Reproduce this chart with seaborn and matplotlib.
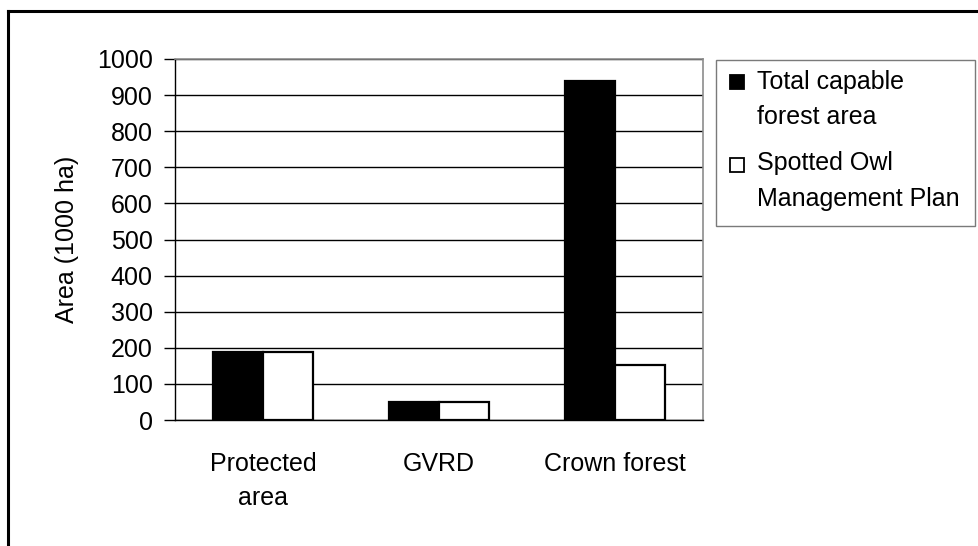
import matplotlib
matplotlib.use("Agg")
import matplotlib.pyplot as plt
from matplotlib.patches import Rectangle
from matplotlib.lines import Line2D
import seaborn as sns
import pandas as pd

categories = ["Protected\narea", "GVRD", "Crown forest"]
series_names = ["Total capable forest area", "Spotted Owl Management Plan"]
total_capable = [187, 50, 938]
spotted_owl = [187, 50, 153]
bar_colors = ["black", "white"]
y_ticks = list(range(0, 1001, 100))

W, H = 979, 546
sns.set_theme(style="white")
plt.rcParams["font.family"] = ["Liberation Sans", "DejaVu Sans"]
plt.rcParams.update({"text.color": "black", "axes.labelcolor": "black",
                     "xtick.color": "black", "ytick.color": "black"})
FS = 18

df = pd.DataFrame({
    "category": categories * 2,
    "area": total_capable + spotted_owl,
    "series": [series_names[0]] * 3 + [series_names[1]] * 3,
})

fig = plt.figure(figsize=(W / 100, H / 100), dpi=100)
fig.patch.set_facecolor("white")


def fx(px):
    return px / W


def fy(py):
    return 1 - py / H


ax = fig.add_axes([fx(175), fy(420), fx(703) - fx(175), fy(59) - fy(420)])

sns.barplot(data=df, x="category", y="area", hue="series", order=categories,
            hue_order=series_names, palette=bar_colors, edgecolor="black",
            linewidth=1.6, width=0.571, gap=0, saturation=1, legend=False, ax=ax)

ax.set_xlim(-0.5, 2.5)
ax.set_ylim(0, 1000)
ax.set_yticks(y_ticks)
ax.set_yticklabels([str(v) for v in y_ticks], fontsize=FS, color="black")
ax.yaxis.grid(True, color="black", linewidth=1)
ax.set_axisbelow(True)

# category labels at centres, tick marks at the boundaries
ax.set_xticks(range(len(categories)))
ax.set_xticklabels(categories, fontsize=FS, linespacing=1.55, color="black")
ax.set_xticks([-0.5, 0.5, 1.5, 2.5], minor=True)
ax.tick_params(axis="x", which="major", length=0, pad=23)
ax.tick_params(axis="x", which="minor", length=7, width=1, color="black", direction="out")
ax.tick_params(axis="y", which="major", length=8, width=1, color="black",
               direction="out", pad=8, left=True)

ax.set_xlabel("")
ax.set_ylabel("Area (1000 ha)", fontsize=FS, labelpad=13, color="black")

for side in ["left", "bottom"]:
    ax.spines[side].set_color("black")
    ax.spines[side].set_linewidth(1)
for side in ["top", "right"]:
    ax.spines[side].set_visible(True)
    ax.spines[side].set_color("#8c8c8c")
    ax.spines[side].set_linewidth(1.2)

# legend box
fig.add_artist(Rectangle((fx(716), fy(226)), fx(975) - fx(716), fy(60) - fy(226),
                         transform=fig.transFigure, facecolor="white",
                         edgecolor="#7a7a7a", linewidth=1))
legend_lines = [["Total capable", "forest area"], ["Spotted Owl", "Management Plan"]]
marker_tops = [75, 158]
line_centres = [[82, 117], [163, 199]]
for color, top, lines, centres in zip(bar_colors, marker_tops, legend_lines, line_centres):
    fig.add_artist(Rectangle((fx(730), fy(top + 14)), fx(744) - fx(730), fy(top) - fy(top + 14),
                             transform=fig.transFigure, facecolor=color,
                             edgecolor="black", linewidth=1.3))
    for txt, cy in zip(lines, centres):
        fig.text(fx(757), fy(cy), txt, fontsize=FS, ha="left", va="center", color="black")

# outer frame (left and top edges)
fig.add_artist(Line2D([fx(8.5), fx(8.5)], [0, fy(10.5)], transform=fig.transFigure,
                      color="black", linewidth=2.2, solid_capstyle="projecting"))
fig.add_artist(Line2D([fx(8.5), 1], [fy(10.5), fy(10.5)], transform=fig.transFigure,
                      color="black", linewidth=2.2, solid_capstyle="projecting"))

fig.savefig("out.png", dpi=100, facecolor="white")
